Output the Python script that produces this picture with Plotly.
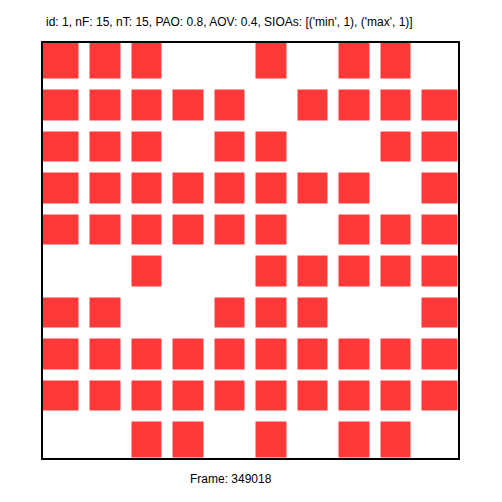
import plotly.graph_objects as go

# Grid state, top row first (1 = filled cell)
rows = [
    [1, 1, 1, 0, 0, 1, 0, 1, 1, 0],
    [1, 1, 1, 1, 1, 0, 1, 1, 1, 1],
    [1, 1, 1, 0, 1, 1, 0, 0, 1, 1],
    [1, 1, 1, 1, 1, 1, 1, 1, 0, 1],
    [1, 1, 1, 1, 1, 1, 0, 1, 1, 1],
    [0, 0, 1, 0, 0, 1, 1, 1, 1, 1],
    [1, 1, 0, 0, 1, 1, 1, 0, 0, 1],
    [1, 1, 1, 1, 1, 1, 1, 1, 1, 1],
    [1, 1, 1, 1, 1, 1, 1, 1, 1, 1],
    [0, 0, 1, 1, 0, 1, 0, 1, 1, 0],
]
title_text = "id: 1, nF: 15, nT: 15, PAO: 0.8, AOV: 0.4, SIOAs: [('min', 1), ('max', 1)]"
frame_text = "Frame: 349018"

# The page body has a default 8px margin, so the figure is offset by 8px
OFF = 8
W, H = 486, 486
# target plot area in page pixels: 43..458
L, T = 43 - OFF, 43 - OFF
R, B = W - (458 - OFF), H - (458 - OFF)
plot_w = W - L - R
plot_h = H - T - B
n_cols = len(rows[0])
n_rows = len(rows)
gap = 11
pitch_x = plot_w / n_cols
pitch_y = plot_h / n_rows
ext_x = (gap / 2) / pitch_x
ext_y = (gap / 2) / pitch_y

x_edges = [i - 0.5 for i in range(n_cols + 1)]
x_edges[0] -= ext_x
x_edges[-1] += ext_x
y_edges = [j - 0.5 for j in range(n_rows + 1)]
y_edges[0] -= ext_y
y_edges[-1] += ext_y

red = "#ff3838"

fig = go.Figure(go.Heatmap(
    z=rows, x=x_edges, y=y_edges,
    colorscale=[[0, "white"], [1, red]], zmin=0, zmax=1,
    showscale=False, xgap=gap, ygap=gap, hoverinfo="skip",
))

fig.update_layout(
    width=W, height=H,
    margin=dict(l=L, r=R, t=T, b=B, pad=0),
    paper_bgcolor="white", plot_bgcolor="white",
    showlegend=False,
    font=dict(family="Liberation Sans, Arial, sans-serif", size=12, color="black"),
)
fig.update_xaxes(range=[-0.5, n_cols - 0.5], showgrid=False, zeroline=False,
                 showticklabels=False, ticks="", showline=True, linewidth=2,
                 linecolor="black", mirror=True)
fig.update_yaxes(range=[n_rows - 0.5, -0.5], showgrid=False, zeroline=False,
                 showticklabels=False, ticks="", showline=True, linewidth=2,
                 linecolor="black", mirror=True)

def px_to_paper_x(px):
    return (px - OFF - L) / plot_w

def px_to_paper_y(py):
    return (H - B - (py - OFF)) / plot_h

fig.add_annotation(text=title_text, x=px_to_paper_x(44), y=px_to_paper_y(22.5),
                   xref="paper", yref="paper", xanchor="left", yanchor="middle",
                   showarrow=False, font=dict(size=12, color="black"))
fig.add_annotation(text=frame_text, x=px_to_paper_x(188), y=px_to_paper_y(478.5),
                   xref="paper", yref="paper", xanchor="left", yanchor="middle",
                   showarrow=False, font=dict(size=12, color="black"))

fig.write_html("out.html")
